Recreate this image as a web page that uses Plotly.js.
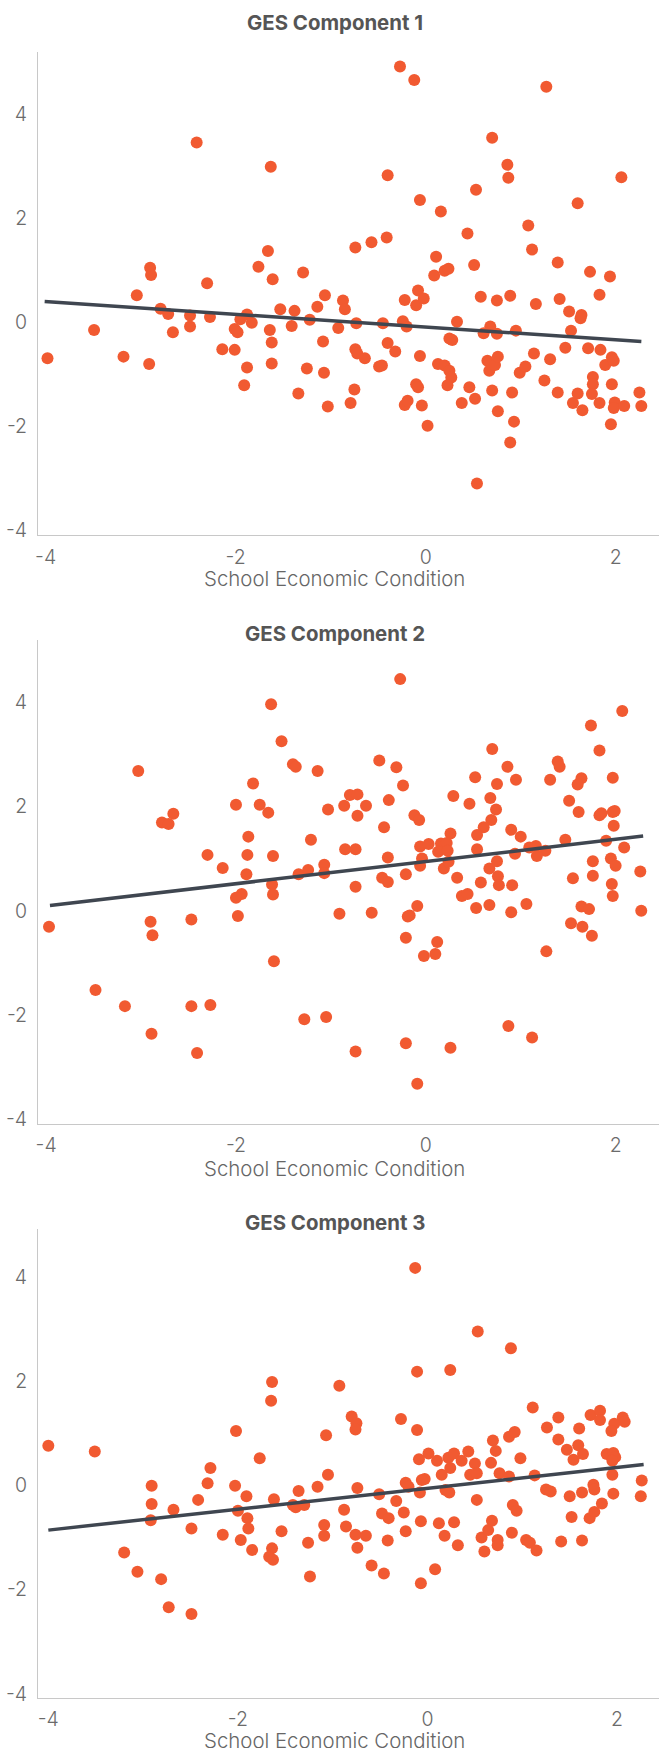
<!DOCTYPE html>
<html>
<head>
<meta charset="utf-8">
<script src="https://cdn.plot.ly/plotly-3.0.1.min.js"></script>
<style>
  html, body { margin: 0; padding: 0; background: #ffffff; }
  #chart { width: 659px; height: 1748px; }
</style>
</head>
<body>
<div id="chart"></div>
<script>
// ---------- DATA ----------
const panelTitles = ['GES Component 1', 'GES Component 2', 'GES Component 3'];
const xAxisTitle = 'School Economic Condition';
const xTickVals = [-4, -2, 0, 2];
const xTickText = ['-4', '-2', '0', '2'];
const yTickVals = [-4, -2, 0, 2, 4];
const yTickText = ['-4', '-2', '0', '2', '4'];

// GES Component 1 (x = school economic condition, y = component score)
const comp1X = [-0.27,-0.12,1.27,-2.41,0.70,-1.63,0.86,0.87,-0.40,2.06,0.53,-0.06,1.60,0.16,1.08,0.44,-0.41,-0.57,-0.74,-1.66,1.12,0.11,1.39,-2.90,-2.89,-1.76,-1.61,-1.29,-2.30,0.51,0.09,0.20,0.24,1.73,1.94,
  -3.04,-1.06,-3.98,-3.49,-3.18,-2.91,-2.79,-2.71,-2.66,-2.48,-2.48,-2.27,-2.14,-2.01,-1.98,-2.01,-1.95,-1.88,-1.83,-1.88,-1.91,-1.64,-1.62,-1.62,-1.53,-1.41,-1.38,-1.34,-1.25,-1.22,-1.14,-1.08,-1.07,-1.03,-0.92,-0.87,-0.85,-0.74,-0.72,-0.64,-0.73,-0.75,-0.79,-0.49,-0.46,-0.45,-0.40,-0.32,-0.24,-0.22,-0.20,-0.22,-0.19,-0.10,-0.08,-0.10,-0.08,-0.02,-0.06,-0.04,0.02,0.13,0.20,0.25,0.27,0.23,0.25,0.28,0.33,0.38,0.46,0.52,0.54,0.58,0.61,0.68,0.75,0.75,0.65,0.67,0.73,0.76,0.70,0.76,0.89,0.95,0.91,0.93,0.89,0.99,1.05,1.14,1.16,1.25,1.31,1.39,1.41,1.47,1.51,1.53,1.55,1.60,1.63,1.64,1.65,1.71,1.76,1.76,1.75,1.83,1.84,1.83,1.89,1.96,1.98,1.96,1.99,1.98,1.95,2.09,2.25,2.27];
const comp1Y = [4.92,4.66,4.53,3.46,3.55,2.99,3.03,2.78,2.83,2.79,2.55,2.35,2.29,2.13,1.86,1.71,1.63,1.54,1.44,1.37,1.40,1.26,1.15,1.05,0.91,1.07,0.83,0.96,0.75,1.10,0.90,0.99,1.03,0.97,0.88,
  0.52,0.52,-0.69,-0.15,-0.66,-0.80,0.26,0.16,-0.19,0.13,-0.08,0.10,-0.52,-0.13,-0.19,-0.53,0.06,0.15,-0.01,-0.87,-1.21,-0.15,-0.39,-0.79,0.25,-0.07,0.22,-1.37,-0.89,0.05,0.30,-0.37,-0.97,-1.62,-0.11,0.42,0.25,-0.52,-0.60,-0.69,-0.02,-1.29,-1.55,-0.85,-0.83,-0.02,-0.40,-0.56,0.02,0.43,-0.08,-1.59,-1.51,-1.19,-1.25,0.33,0.61,0.46,-0.65,-1.60,-1.99,-0.80,-0.83,-0.93,-1.06,-1.21,-0.31,-0.34,0.01,-1.55,-1.25,-1.47,-3.10,0.49,-0.21,-0.08,0.42,-0.22,-0.74,-0.93,-0.82,-0.66,-1.31,-1.71,0.51,-0.16,-1.35,-1.91,-2.31,-0.97,-0.85,-0.60,0.35,-1.12,-0.71,-1.35,0.45,-0.49,0.21,-0.16,-1.55,-1.37,0.08,0.14,-1.69,-0.50,-1.05,-1.19,-1.38,0.53,-0.53,-1.55,-0.82,-0.67,-0.74,-1.19,-1.54,-1.65,-1.96,-1.61,-1.35,-1.61];

// GES Component 2
const comp2X = [-0.27,-1.63,2.07,1.74,-1.52,0.70,1.83,-0.49,1.39,1.41,-1.40,-1.37,-3.03,-1.14,-0.31,0.86,0.52,0.95,1.31,1.64,1.60,1.97,-1.82,-0.24,0.75,0.29,0.68,1.51,-0.39,-0.80,-0.72,-0.86,-0.63,-0.72,0.46,-2.00,-1.75,-1.66,0.74,-1.03,1.61,1.83,1.85,1.97,1.99,-2.78,-2.71,-2.66,-0.12,-0.07,0.69,-0.44,1.98,0.61,0.90,0.26,0.54,1.00,-1.87,-1.21,1.47,1.90,-0.06,0.03,0.16,0.22,0.13,0.23,0.54,1.09,1.16,1.26,1.17,0.94,2.09,-0.85,-0.74,-2.30,-1.88,-1.61,-0.40,-0.04,0.75,1.95,2.00,1.76,-2.14,-1.07,-1.07,-1.34,-1.24,-0.06,0.19,0.24,-1.89,-0.21,0.67,0.76,0.77,0.33,0.58,-0.46,-0.40,0.91,1.55,1.76,2.26,1.96,-1.62,-0.74,-1.61,-1.94,-2.00,0.38,0.44,1.97,
  -3.97,-2.90,-2.88,-2.47,-1.98,-1.60,-0.91,-0.57,-0.09,-0.19,-0.17,-0.21,0.12,-0.02,0.10,0.53,0.67,0.90,1.06,1.27,1.53,1.64,1.72,1.65,1.75,2.27,-3.48,-3.17,-2.89,-2.47,-2.27,-2.41,-1.28,-1.05,-0.74,-0.21,-0.09,0.26,0.87,1.12];
const comp2Y = [4.44,3.96,3.83,3.55,3.25,3.10,3.07,2.88,2.86,2.76,2.81,2.76,2.68,2.68,2.75,2.76,2.56,2.51,2.51,2.54,2.42,2.55,2.44,2.40,2.43,2.20,2.16,2.11,2.12,2.22,2.23,2.01,2.01,1.82,2.05,2.03,2.03,1.88,1.94,1.94,1.89,1.83,1.87,1.89,1.91,1.69,1.66,1.86,1.83,1.74,1.74,1.60,1.63,1.60,1.55,1.48,1.45,1.42,1.42,1.36,1.36,1.34,1.23,1.28,1.29,1.30,1.13,1.15,1.18,1.21,1.24,1.15,1.05,1.09,1.21,1.18,1.18,1.07,1.07,1.05,1.02,1.00,0.95,1.00,0.86,0.95,0.82,0.88,0.72,0.70,0.78,0.86,0.81,0.94,0.70,0.70,0.81,0.66,0.49,0.63,0.54,0.63,0.55,0.49,0.62,0.67,0.75,0.51,0.50,0.46,0.31,0.32,0.25,0.28,0.32,0.28,
  -0.31,-0.21,-0.47,-0.17,-0.10,-0.97,-0.06,-0.04,0.09,-0.11,-0.09,-0.52,-0.60,-0.87,-0.83,0.05,0.11,-0.03,0.13,-0.78,-0.24,0.08,0.03,-0.31,-0.48,0.00,-1.52,-1.83,-2.36,-1.83,-1.81,-2.73,-2.08,-2.04,-2.70,-2.54,-3.32,-2.63,-2.21,-2.43];

// GES Component 3
const comp3X = [-0.13,0.53,0.88,-0.11,0.24,-1.64,-0.93,-1.65,1.11,-0.80,-0.75,-0.76,-0.28,1.38,1.72,1.82,1.82,2.06,2.08,1.97,1.26,1.60,1.94,-0.11,-2.02,-1.07,0.86,0.92,1.38,0.69,0.72,1.47,1.59,1.64,1.54,1.89,1.96,1.98,1.95,-4.00,-3.51,-1.77,-2.29,0.01,-0.09,0.10,0.22,0.28,0.36,0.24,0.43,0.50,0.67,0.98,-1.05,0.76,0.86,1.13,1.95,0.45,0.52,0.15,
  2.26,-0.03,-0.06,-0.23,-0.20,-0.08,-0.74,-0.51,0.19,0.23,0.52,1.25,1.30,1.50,1.63,1.75,1.76,1.96,2.25,-2.91,-2.91,-2.92,-2.68,-2.42,-2.32,-2.49,-2.03,-2.00,-1.91,-1.90,-1.89,-2.16,-1.97,-1.85,-1.62,-1.64,-1.67,-1.63,-1.54,-1.42,-1.39,-1.30,-1.36,-1.26,-1.24,-1.16,-1.09,-1.09,-0.88,-0.86,-0.76,-0.65,-0.74,-0.59,-0.46,-0.48,-0.41,-0.33,-0.25,-0.42,-0.23,-0.07,-0.07,0.08,0.12,0.18,0.28,0.32,0.57,0.60,0.64,0.68,0.74,0.74,0.89,0.90,0.94,1.04,1.08,1.15,1.41,1.52,1.63,1.71,1.76,1.84,-3.20,-3.06,-2.81,-2.73,-2.49];
const comp3Y = [4.17,2.95,2.63,2.18,2.21,1.98,1.91,1.62,1.49,1.32,1.19,1.07,1.27,1.30,1.35,1.43,1.25,1.30,1.22,1.18,1.11,1.09,1.04,1.06,1.04,0.96,0.93,1.02,0.88,0.86,0.66,0.68,0.77,0.60,0.49,0.60,0.62,0.54,0.47,0.76,0.65,0.52,0.33,0.61,0.50,0.47,0.53,0.61,0.47,0.33,0.65,0.42,0.43,0.52,0.20,0.23,0.17,0.19,0.20,0.20,0.23,0.20,
  0.09,0.12,0.10,0.05,-0.03,-0.14,-0.05,-0.17,-0.09,-0.14,-0.28,-0.08,-0.12,-0.21,-0.14,0.01,-0.08,-0.16,-0.21,-0.01,-0.36,-0.67,-0.47,-0.28,0.04,-0.83,-0.01,-0.49,-0.21,-0.63,-0.83,-0.95,-1.05,-1.24,-0.27,-1.21,-1.37,-1.43,-0.88,-0.38,-0.42,-0.38,-0.11,-1.10,-1.75,-0.03,-0.76,-0.97,-0.47,-0.79,-0.95,-0.97,-1.20,-1.54,-1.69,-0.54,-0.63,-0.30,-0.52,-1.06,-0.88,-0.69,-1.88,-1.61,-0.73,-0.97,-0.71,-1.15,-1.00,-1.27,-0.86,-0.68,-1.05,-1.15,-0.91,-0.38,-0.49,-1.05,-1.10,-1.25,-1.08,-0.61,-1.06,-0.63,-0.51,-0.35,-1.29,-1.66,-1.80,-2.34,-2.47];

// fitted trend lines (end points)
const trend1X = [-4.01, 2.27], trend1Y = [0.40, -0.37];
const trend2X = [-3.96, 2.29], trend2Y = [0.10, 1.43];
const trend3X = [-4.00, 2.28], trend3Y = [-0.86, 0.40];

// ---------- LAYOUT HELPERS ----------
const W = 659, H = 1748, ML = 38;
const px = x => (x - ML) / (W - ML);
const py = y => 1 - y / H;

const dotColor = '#F15A31';
const lineColor = '#3F4650';
const fontFam = 'Inter, Roboto, "Noto Sans", sans-serif';

const seriesX = [comp1X, comp2X, comp3X];
const seriesY = [comp1Y, comp2Y, comp3Y];
const trendX = [trend1X, trend2X, trend3X];
const trendY = [trend1Y, trend2Y, trend3Y];

// pixel geometry of each panel
const panels = [
  { top: 51.7, bottom: 535.3, xr: [-4.08, 2.456], yr: [-4.096, 5.204], titleY: 22, axTitleY: 578 },
  { top: 640, bottom: 1124, xr: [-4.086, 2.457], yr: [-4.09, 5.19], titleY: 633.5, axTitleY: 1168 },
  { top: 1229.3, bottom: 1698, xr: [-4.109, 2.442], yr: [-4.08, 4.91], titleY: 1222, axTitleY: 1740 }
];

const traces = [];
const layout = {
  width: W, height: H,
  margin: { l: ML, r: 0, t: 0, b: 0, pad: 0 },
  paper_bgcolor: '#ffffff', plot_bgcolor: '#ffffff',
  showlegend: false,
  font: { family: fontFam, color: '#6b6b6b' },
  annotations: []
};

panels.forEach((p, i) => {
  const n = i === 0 ? '' : String(i + 1);
  traces.push({
    type: 'scatter', mode: 'markers',
    x: seriesX[i], y: seriesY[i],
    xaxis: 'x' + n, yaxis: 'y' + n,
    marker: { color: dotColor, size: 12, line: { width: 0 } },
    hoverinfo: 'skip'
  });
  traces.push({
    type: 'scatter', mode: 'lines',
    x: trendX[i], y: trendY[i],
    xaxis: 'x' + n, yaxis: 'y' + n,
    line: { color: lineColor, width: 3.5 },
    hoverinfo: 'skip'
  });
  layout['xaxis' + n] = {
    domain: [0, 1], anchor: 'y' + n, range: p.xr,
    tickmode: 'array', tickvals: xTickVals, ticktext: xTickText,
    showgrid: false, zeroline: false, showline: true,
    linecolor: '#c8c8c8', linewidth: 1, ticks: '',
    ticklabelstandoff: 4,
    tickfont: { family: fontFam, size: 19.5, color: '#6b6b6b', weight: 300 }
  };
  layout['yaxis' + n] = {
    domain: [py(p.bottom), py(p.top)], anchor: 'x' + n, range: p.yr,
    tickmode: 'array', tickvals: yTickVals, ticktext: yTickText,
    showgrid: false, zeroline: false, showline: true,
    linecolor: '#c8c8c8', linewidth: 1, ticks: '',
    ticklabelstandoff: 6,
    tickfont: { family: fontFam, size: 19.5, color: '#6b6b6b', weight: 300 }
  };
  layout.annotations.push({
    text: panelTitles[i], xref: 'paper', yref: 'paper',
    x: px(335), y: py(p.titleY), xanchor: 'center', yanchor: 'middle',
    showarrow: false,
    font: { family: fontFam, size: 20.4, color: '#555555', weight: 700 }
  });
  layout.annotations.push({
    text: xAxisTitle, xref: 'paper', yref: 'paper',
    x: px(334), y: py(p.axTitleY), xanchor: 'center', yanchor: 'middle',
    showarrow: false, borderpad: 0,
    font: { family: fontFam, size: 20.4, color: '#666666', weight: 300 }
  });
});

Plotly.newPlot('chart', traces, layout, { staticPlot: true, displayModeBar: false });
</script>
</body>
</html>
